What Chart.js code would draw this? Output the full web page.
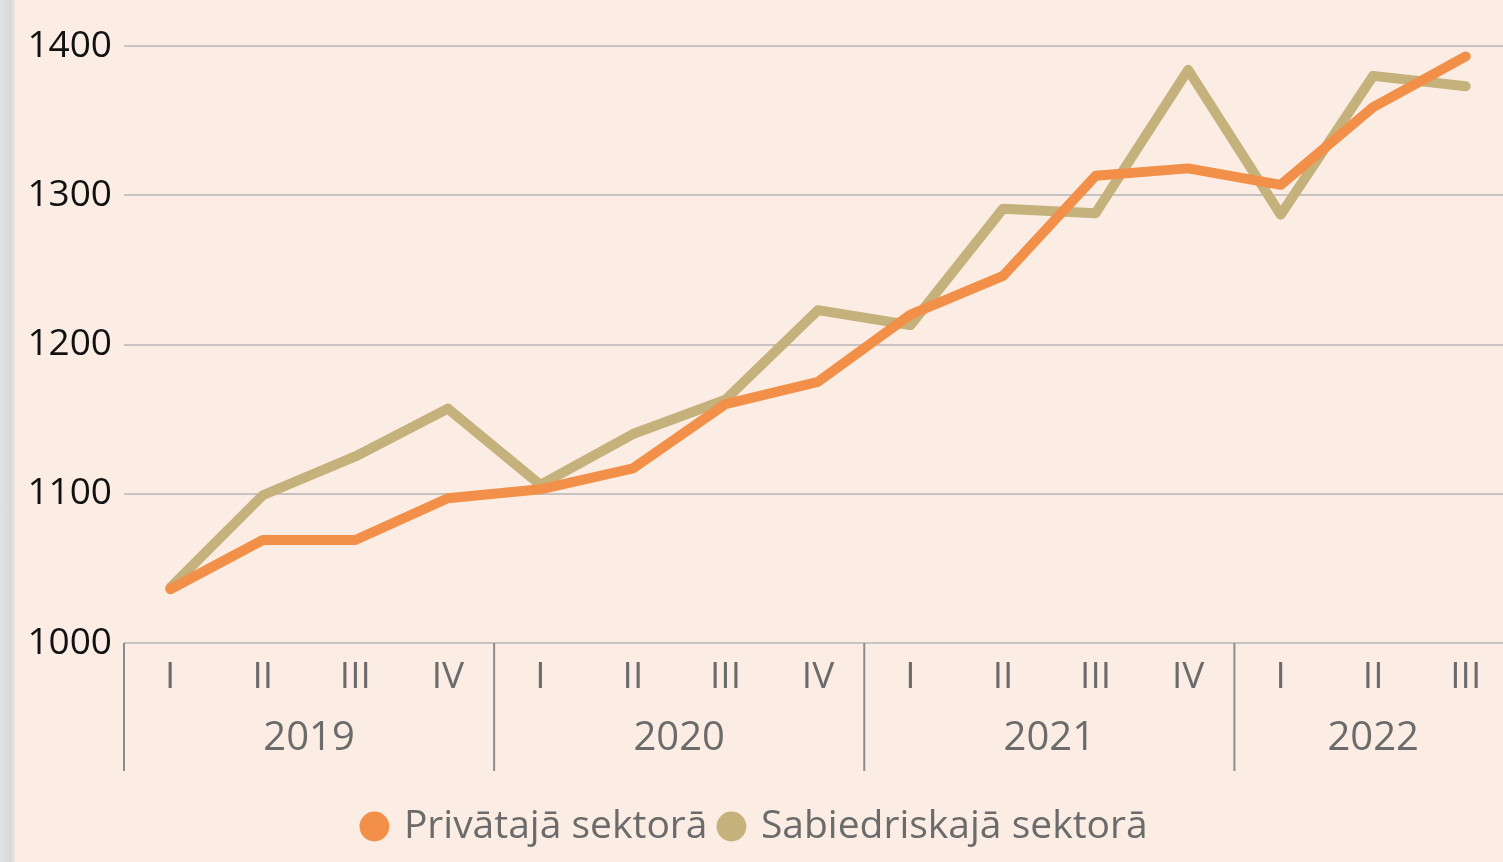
<!DOCTYPE html>
<html>
<head>
<meta charset="utf-8">
<script src="https://cdn.jsdelivr.net/npm/chart.js@4"></script>
<style>
  html, body { margin: 0; padding: 0; overflow: hidden; background: #fbede3; }
  #wrap { position: relative; width: 1503px; height: 862px; overflow: hidden; }
  #edge { position: absolute; left: 0; top: 0; width: 15px; height: 862px;
          background: linear-gradient(to right, #e2e2e2, #d9d9d9 70%, #ece6e1); }
  #box { position: absolute; left: 0; top: 0; width: 1512px; height: 862px; }
</style>
</head>
<body>
<div id="wrap">
  <div id="box"><canvas id="wages"></canvas></div>
  <div id="edge"></div>
</div>
<script>
const quarters = ["I", "II", "III", "IV", "I", "II", "III", "IV", "I", "II", "III", "IV", "I", "II", "III"];
const years = ["2019", "2020", "2021", "2022"];
const yearSizes = [4, 4, 4, 3];
const privateSector = [1036, 1069, 1069, 1097, 1103, 1117, 1160, 1175, 1220, 1246, 1313, 1318, 1307, 1359, 1393];
const publicSector = [1037, 1099, 1125, 1157, 1106, 1140, 1163, 1223, 1213, 1291, 1288, 1384, 1287, 1380, 1373];

const fontFamily = "'Open Sans', 'Noto Sans', sans-serif";

// year row + group separators under the quarter labels
const yearGroups = {
    id: "yearGroups",
    afterDraw(chart) {
        const ctx = chart.ctx;
        const x = chart.scales.x;
        const step = x.getPixelForValue(1) - x.getPixelForValue(0);
        const top = chart.chartArea.bottom;
        let start = 0;
        ctx.save();
        ctx.strokeStyle = "#8c8c8c";
        ctx.lineWidth = 2;
        ctx.fillStyle = "#6b6b6b";
        ctx.font = "40px " + fontFamily;
        ctx.textAlign = "center";
        ctx.textBaseline = "middle";
        years.forEach((y, i) => {
            const left = x.getPixelForValue(start) - step / 2;
            const right = left + yearSizes[i] * step;
            ctx.beginPath();
            ctx.moveTo(left, top);
            ctx.lineTo(left, top + 128);
            ctx.stroke();
            ctx.fillText(y, (left + right) / 2, top + 96);
            start += yearSizes[i];
        });
        ctx.restore();
    }
};

new Chart(document.getElementById("wages"), {
    type: "line",
    data: {
        labels: quarters,
        datasets: [
            {
                label: "Privātajā sektorā",
                data: privateSector,
                borderColor: "#f2904a",
                backgroundColor: "#f2904a",
                borderWidth: 10,
                borderCapStyle: "round",
                borderJoinStyle: "round",
                pointRadius: 0,
                tension: 0
            },
            {
                label: "Sabiedriskajā sektorā",
                data: publicSector,
                borderColor: "#c5b17b",
                backgroundColor: "#c5b17b",
                borderWidth: 10,
                borderCapStyle: "round",
                borderJoinStyle: "round",
                pointRadius: 0,
                tension: 0
            }
        ]
    },
    options: {
        responsive: true,
        maintainAspectRatio: false,
        animation: false,
        layout: { padding: { top: 46, left: 0, right: 0, bottom: 6 } },
        plugins: {
            tooltip: { enabled: false },
            legend: {
                position: "bottom",
                labels: {
                    usePointStyle: true,
                    pointStyle: "circle",
                    boxWidth: 20,
                    boxHeight: 14,
                    padding: 14,
                    color: "#6b6b6b",
                    font: { family: fontFamily, size: 39 }
                }
            }
        },
        scales: {
            x: {
                offset: true,
                grid: { display: false },
                border: { display: false },
                ticks: {
                    color: "#6b6b6b",
                    padding: 4,
                    maxRotation: 0,
                    autoSkip: false,
                    font: { family: fontFamily, size: 37 }
                },
                afterFit(scale) { scale.height = 150; }
            },
            y: {
                min: 1000,
                max: 1400,
                grid: { color: "#c6c3c0", lineWidth: 2, drawTicks: false },
                border: { display: false },
                ticks: {
                    stepSize: 100,
                    color: "#111",
                    padding: 12,
                    font: { family: fontFamily, size: 37 },
                    callback: (v) => String(v)
                },
                afterFit(scale) { scale.width = 124; }
            }
        }
    },
    plugins: [yearGroups]
});
</script>
</body>
</html>
